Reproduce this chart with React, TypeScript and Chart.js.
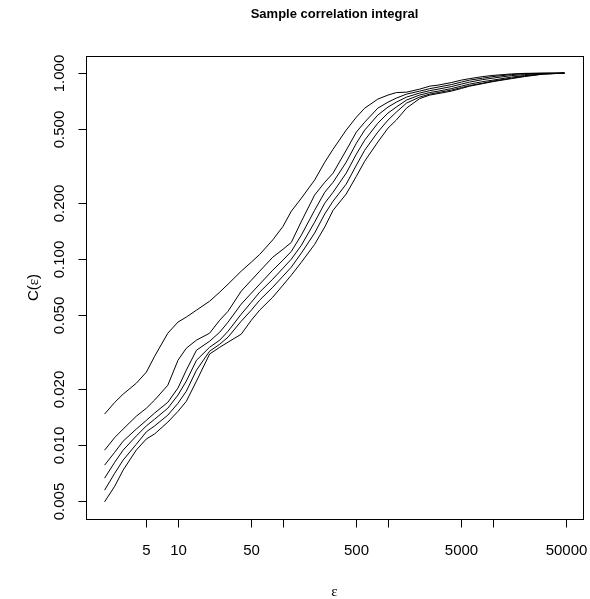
import { useEffect, useRef } from 'react';
import { Chart, registerables } from 'chart.js';

Chart.register(...registerables);

// ---- data ----
const EPS = [2, 2.5, 3, 4, 5, 6, 8, 10, 12, 15, 20, 25, 30, 40, 50, 60, 80, 100, 120, 150, 200, 250, 300, 400, 500, 600, 800, 1000, 1200, 1500, 2000, 2500, 3000, 4000, 5000, 6000, 8000, 10000, 15000, 20000, 30000, 48000];

const C_M1 = [0.0147, 0.0170, 0.0188, 0.0215, 0.0247, 0.0301, 0.0400, 0.0459, 0.0488, 0.0532, 0.0594, 0.0665, 0.0734, 0.0862, 0.0964, 0.106, 0.127, 0.150, 0.181, 0.213, 0.266, 0.332, 0.390, 0.494, 0.580, 0.648, 0.725, 0.762, 0.786, 0.790, 0.820, 0.851, 0.862, 0.889, 0.917, 0.934, 0.958, 0.972, 0.990, 0.997, 0.999, 1.0];
const C_M2 = [0.0094, 0.0110, 0.0122, 0.0143, 0.0158, 0.0175, 0.0210, 0.0286, 0.0332, 0.0367, 0.0400, 0.0470, 0.0525, 0.0673, 0.0771, 0.0862, 0.1025, 0.113, 0.123, 0.160, 0.221, 0.259, 0.290, 0.385, 0.482, 0.545, 0.648, 0.698, 0.734, 0.771, 0.800, 0.825, 0.841, 0.867, 0.895, 0.917, 0.940, 0.958, 0.982, 0.994, 0.999, 1.0];
const C_M3 = [0.00781, 0.00917, 0.0105, 0.0122, 0.0136, 0.0149, 0.0170, 0.0203, 0.0253, 0.0324, 0.0362, 0.0405, 0.0459, 0.0573, 0.0657, 0.0734, 0.0873, 0.0988, 0.110, 0.135, 0.183, 0.229, 0.259, 0.332, 0.420, 0.494, 0.595, 0.657, 0.698, 0.743, 0.781, 0.805, 0.820, 0.846, 0.873, 0.895, 0.923, 0.940, 0.970, 0.982, 0.996, 1.0];
const C_M4 = [0.00665, 0.00810, 0.00940, 0.0112, 0.0127, 0.0138, 0.0158, 0.0186, 0.0221, 0.0286, 0.0336, 0.0367, 0.0410, 0.0506, 0.0587, 0.0665, 0.0781, 0.0894, 0.100, 0.119, 0.158, 0.200, 0.229, 0.290, 0.367, 0.436, 0.538, 0.610, 0.657, 0.716, 0.762, 0.786, 0.800, 0.825, 0.851, 0.873, 0.900, 0.917, 0.952, 0.970, 0.991, 1.0];
const C_M5 = [0.00573, 0.00707, 0.00831, 0.0101, 0.0118, 0.0127, 0.0145, 0.0168, 0.0195, 0.0253, 0.0320, 0.0349, 0.0381, 0.0464, 0.0532, 0.0602, 0.0707, 0.0810, 0.0906, 0.108, 0.138, 0.175, 0.205, 0.253, 0.320, 0.385, 0.482, 0.559, 0.617, 0.690, 0.743, 0.771, 0.786, 0.810, 0.836, 0.857, 0.884, 0.906, 0.940, 0.964, 0.988, 1.0];
const C_M6 = [0.00496, 0.00602, 0.00734, 0.00940, 0.0108, 0.0115, 0.0133, 0.0152, 0.0172, 0.0221, 0.0309, 0.0336, 0.0358, 0.0395, 0.0470, 0.0532, 0.0625, 0.0725, 0.0820, 0.0964, 0.120, 0.149, 0.183, 0.224, 0.279, 0.336, 0.426, 0.506, 0.559, 0.648, 0.729, 0.762, 0.776, 0.800, 0.827, 0.851, 0.878, 0.900, 0.934, 0.958, 0.988, 1.0];

const SERIES = [C_M1, C_M2, C_M3, C_M4, C_M5, C_M6];

const X_TICKS = [5, 10, 50, 100, 500, 1000, 5000, 10000, 50000];
const X_TICK_LABELS = ['5', '10', '50', '', '500', '', '5000', '', '50000'];
const Y_TICKS = [0.005, 0.01, 0.02, 0.05, 0.1, 0.2, 0.5, 1];
const Y_TICK_LABELS = ['0.005', '0.010', '0.020', '0.050', '0.100', '0.200', '0.500', '1.000'];

const TITLE = 'Sample correlation integral';
const X_TITLE = 'ε';
const Y_TITLE_PARTS = ['C(', 'ε', ')'];

// axis limits (R style 4% extension)
const X_MIN = 1.33;
const X_MAX = 72000;
const Y_MIN = 0.00401;
const Y_MAX = 1.236;

const SANS = '"Liberation Sans", Arial, Helvetica, sans-serif';
const SERIF = '"Liberation Serif", "DejaVu Serif", serif';
const TICK_FONT = 15;
const TICK_LEN = 8;

const rAxesPlugin = {
  id: 'rAxes',
  afterDraw(chart: any) {
    const { ctx, chartArea: a, scales } = chart;
    const xs = scales.x;
    const ys = scales.y;
    const L = Math.round(a.left) + 0.5;
    const R = Math.round(a.right) + 0.5;
    const T = Math.round(a.top) + 0.5;
    const B = Math.round(a.bottom) + 0.5;
    ctx.save();
    ctx.strokeStyle = '#000';
    ctx.fillStyle = '#000';
    ctx.lineWidth = 1;
    ctx.strokeRect(L, T, R - L, B - T);

    // x axis ticks and labels
    ctx.font = `${TICK_FONT}px ${SANS}`;
    ctx.textAlign = 'center';
    ctx.textBaseline = 'middle';
    X_TICKS.forEach((v, i) => {
      const px = Math.round(xs.getPixelForValue(v)) + 0.5;
      ctx.beginPath();
      ctx.moveTo(px, B);
      ctx.lineTo(px, B + TICK_LEN);
      ctx.stroke();
      if (X_TICK_LABELS[i]) ctx.fillText(X_TICK_LABELS[i], px, B + 31);
    });

    // y axis ticks and labels (rotated)
    Y_TICKS.forEach((v, i) => {
      const py = Math.round(ys.getPixelForValue(v)) + 0.5;
      ctx.beginPath();
      ctx.moveTo(L, py);
      ctx.lineTo(L - TICK_LEN, py);
      ctx.stroke();
      ctx.save();
      ctx.translate(L - 27, py);
      ctx.rotate(-Math.PI / 2);
      ctx.fillText(Y_TICK_LABELS[i], 0, 0);
      ctx.restore();
    });

    const cx = (a.left + a.right) / 2;
    const cy = (a.top + a.bottom) / 2;

    // title
    ctx.font = `bold 13px ${SANS}`;
    ctx.fillText(TITLE, cx, 14);

    // x title
    ctx.font = `15px ${SERIF}`;
    ctx.fillText(X_TITLE, cx, 592);

    // y title (rotated), mixed fonts
    ctx.save();
    ctx.translate(34, cy);
    ctx.rotate(-Math.PI / 2);
    const fonts = [`${TICK_FONT}px ${SANS}`, `15px ${SERIF}`, `${TICK_FONT}px ${SANS}`];
    const widths = Y_TITLE_PARTS.map((p, i) => {
      ctx.font = fonts[i];
      return ctx.measureText(p).width;
    });
    const total = widths.reduce((s, w) => s + w, 0);
    let xpos = -total / 2;
    ctx.textAlign = 'left';
    Y_TITLE_PARTS.forEach((p, i) => {
      ctx.font = fonts[i];
      ctx.fillText(p, xpos, 0);
      xpos += widths[i];
    });
    ctx.restore();

    ctx.restore();
  },
};

export default function App() {
  const ref = useRef<HTMLCanvasElement | null>(null);
  useEffect(() => {
    if (!ref.current) return;
    const chart = new Chart(ref.current, {
      type: 'line',
      data: {
        datasets: SERIES.map((s, k) => ({
          label: `m=${k + 1}`,
          data: EPS.map((e, i) => ({ x: e, y: s[i] })),
          borderColor: '#000',
          borderWidth: 1,
          pointRadius: 0,
          tension: 0,
          fill: false,
        })),
      },
      options: {
        animation: false,
        responsive: false,
        devicePixelRatio: 1,
        layout: { padding: { left: 86, right: 7, top: 56, bottom: 80 } },
        plugins: { legend: { display: false }, tooltip: { enabled: false }, title: { display: false } },
        scales: {
          x: { type: 'logarithmic', min: X_MIN, max: X_MAX, display: false },
          y: { type: 'logarithmic', min: Y_MIN, max: Y_MAX, display: false },
        },
      },
      plugins: [rAxesPlugin],
    } as any);
    return () => chart.destroy();
  }, []);
  return (
    <div style={{ position: 'absolute', left: 0, top: 0, width: 590, height: 599, background: '#fff' }}>
      <canvas ref={ref} width={590} height={599} style={{ display: 'block' }} />
    </div>
  );
}
